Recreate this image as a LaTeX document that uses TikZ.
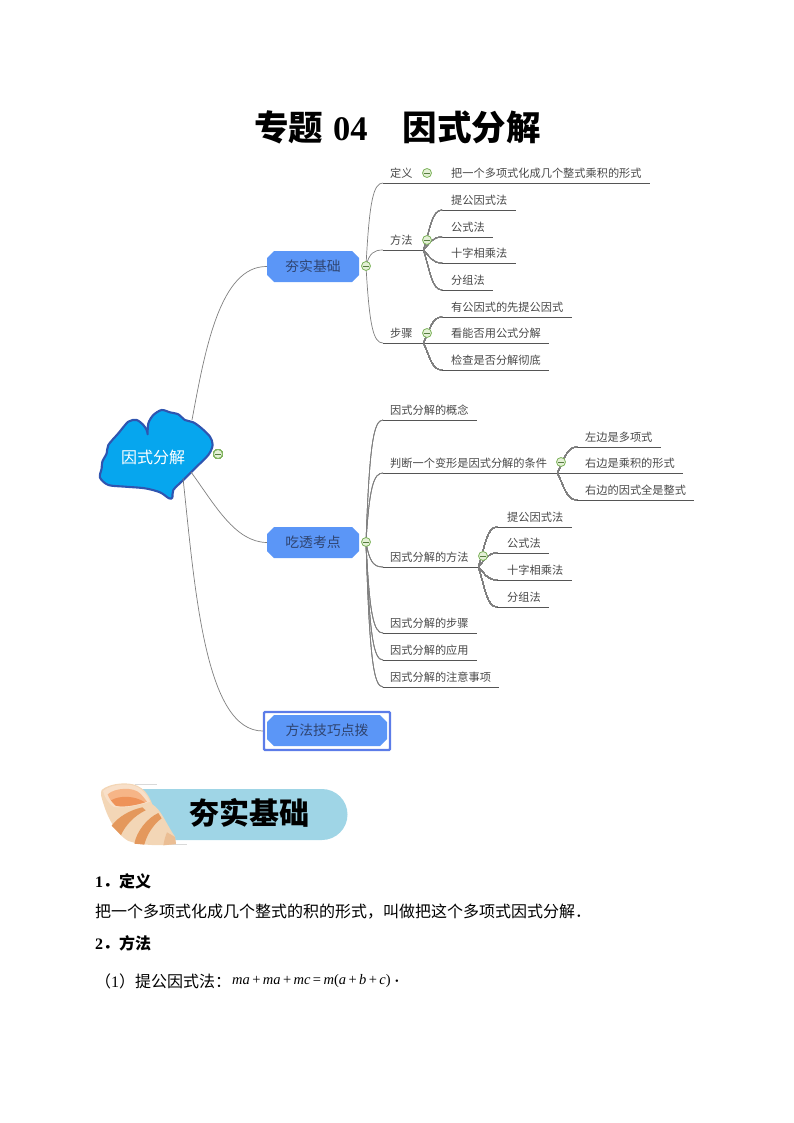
\documentclass[tikz,border=0pt]{standalone}
\usepackage{fontspec}
\setmainfont{Liberation Serif}
\newfontfamily\cjk{Noto Sans CJK SC}
\usetikzlibrary{calc,shapes.misc}
\definecolor{txt}{HTML}{484848}
\definecolor{lnc}{HTML}{7F7F7F}
\definecolor{ulc}{HTML}{555555}
\definecolor{topicfill}{HTML}{5B96F7}
\definecolor{topictxt}{HTML}{2F4470}
\definecolor{boxline}{HTML}{5C7CE8}
\definecolor{rootfill}{HTML}{06A6EE}
\definecolor{rootline}{HTML}{2F55B0}
\definecolor{foldline}{HTML}{7DB25B}
\definecolor{foldfill}{HTML}{E4F0D6}
\definecolor{bannerfill}{HTML}{9FD5E6}
\definecolor{shellbody}{HTML}{F3D6B6}
\definecolor{shelldark}{HTML}{EBBE94}
\definecolor{shelllip}{HTML}{F8DFC8}
\definecolor{shellin}{HTML}{F6B587}
\definecolor{shellcore}{HTML}{EE9258}
\definecolor{shellstripe}{HTML}{E4985C}
\tikzset{
  x=1pt,y=-1pt,
  leaf/.style 2 args={anchor=south west,inner sep=0pt,text width=#1pt,text depth=5pt,text height=10pt,
    align=left,font=\cjk\fontsize{11.2}{13}\selectfont,text=txt,execute at begin node={\hspace*{#2pt}}},
  ln/.style={draw=lnc,line width=.7pt},
  ul/.style={draw=ulc,line width=.8pt},
  topic/.style={rectangle,inner sep=0pt,minimum width=92pt,minimum height=31pt,
    font=\cjk\fontsize{13.8}{15}\selectfont,text=topictxt,
    path picture={\fill[topicfill]
      ($(path picture bounding box.north west)+(7pt,0pt)$) -- ($(path picture bounding box.north east)+(-7pt,0pt)$) --
      ($(path picture bounding box.north east)+(0pt,-7pt)$) -- ($(path picture bounding box.south east)+(0pt,7pt)$) --
      ($(path picture bounding box.south east)+(-7pt,0pt)$) -- ($(path picture bounding box.south west)+(7pt,0pt)$) --
      ($(path picture bounding box.south west)+(0pt,7pt)$) -- ($(path picture bounding box.north west)+(0pt,-7pt)$) -- cycle;}},
  fold/.style={circle,draw=foldline,fill=foldfill,line width=.8pt,inner sep=0pt,minimum size=9pt,
    path picture={\draw[foldline!70!black,line width=.9pt] (path picture bounding box.center) ++(-2.8pt,0pt) -- ++(5.6pt,0pt);}},
  body/.style={anchor=west,inner sep=0pt,font=\cjk\fontsize{16}{18}\selectfont,text=black},
  bodyb/.style={body,font=\cjk\bfseries\fontsize{16}{18}\selectfont},
}
\newcommand\mconn[2]{\draw[ln] let \p1=(#1),\p2=(#2) in (\p1) .. controls ({\x1+.2*(\x2-\x1)},{\y1+.8*(\y2-\y1)}) and ({\x1+.45*(\x2-\x1)},\y2) .. (\p2);}
\newcommand\sconn[2]{\draw[ln] let \p1=(#1),\p2=(#2) in (\p1) .. controls ({\x1+.35*(\x2-\x1)},{\y1+.5*(\y2-\y1)}) and ({\x1+.45*(\x2-\x1)},\y2) .. (\p2);}
\begin{document}
\begin{tikzpicture}
\path[use as bounding box] (0,0) rectangle (794,1123);
% title
\node[inner sep=0pt,anchor=west,font=\cjk\bfseries\fontsize{34.5}{38}\selectfont] (title) at (254,127)
  {专题\hspace{10pt}{\rmfamily 04}\hspace{35pt}因式分解};
% root
\draw[fill=rootfill,draw=rootline,line width=2.1pt,line join=round,shift={(95,405)},x=.3333pt,y=-.3333pt]
  plot[smooth,tension=.5] coordinates {(158,88)(160,55)(175,30)(200,15)(225,22)(250,28)(270,45)(295,52)(320,70)(345,95)(353,120)(340,150)(300,190)(265,225)(235,255)(232,278)(222,280)(195,262)(150,250)(90,245)(40,240)(15,218)(20,190)(22,170)(35,145)(40,120)(70,85)(100,50)(125,45)(145,60)(155,75)(158,88)} -- cycle;
\node[inner sep=0pt,font=\cjk\fontsize{16}{18}\selectfont,text=white] (root) at (153,457) {因式分解};
\coordinate (rootA) at (192,420);
\coordinate (rootB) at (191,472);
\coordinate (rootC) at (183,478);
% topics
\node[topic] (t1) at (313,266.5) {夯实基础};
\node[topic] (t2) at (313,542.5) {吃透考点};
\node[draw=boxline,line width=2.3pt,rounded corners=1pt,inner sep=0pt,minimum width=126pt,minimum height=38pt] (t3box) at (327,731) {};
\node[topic,minimum width=120pt,minimum height=31pt] (t3) at (327,730.5) {方法技巧点拨};
\draw[ln] (rootA) .. controls (205,350) and (220,266) .. (t1.west);
\draw[ln] (rootB) .. controls (215,505) and (235,542) .. (t2.west);
\draw[ln] (rootC) .. controls (195,590) and (205,731) .. (t3box.west);
% fold marks positions
\coordinate (h1) at (366,266);
\coordinate (h2) at (366,542);
% leaves branch 1
\node[leaf={40}{7}] (a1) at (383,183) {定义};
\node[leaf={227}{28}] (a1x) at (423,183) {把一个多项式化成几个整式乘积的形式};
\node[leaf={40}{7}] (a2) at (383,250) {方法};
\node[leaf={74}{9}] (a21) at (442,210) {提公因式法};
\node[leaf={51}{9}] (a22) at (442,237) {公式法};
\node[leaf={74}{9}] (a23) at (442,263) {十字相乘法};
\node[leaf={51}{9}] (a24) at (442,290) {分组法};
\node[leaf={40}{7}] (a3) at (383,343) {步骤};
\node[leaf={130}{9}] (a31) at (442,317) {有公因式的先提公因式};
\node[leaf={126}{28}] (a32) at (423,343) {看能否用公式分解};
\node[leaf={107}{9}] (a33) at (442,370) {检查是否分解彻底};
% leaves branch 2
\node[leaf={94}{7}] (b1) at (383,420) {因式分解的概念};
\node[leaf={174}{7}] (b2) at (383,473) {判断一个变形是因式分解的条件};
\node[leaf={84}{8}] (b21) at (577,447) {左边是多项式};
\node[leaf={126}{28}] (b22) at (557,473) {右边是乘积的形式};
\node[leaf={117}{8}] (b23) at (577,500) {右边的因式全是整式};
\node[leaf={95}{7}] (b3) at (383,567) {因式分解的方法};
\node[leaf={75}{10}] (b31) at (497,527) {提公因式法};
\node[leaf={52}{10}] (b32) at (497,553) {公式法};
\node[leaf={75}{10}] (b33) at (497,580) {十字相乘法};
\node[leaf={52}{10}] (b34) at (497,607) {分组法};
\node[leaf={94}{7}] (b4) at (383,633) {因式分解的步骤};
\node[leaf={94}{7}] (b5) at (383,660) {因式分解的应用};
\node[leaf={116}{7}] (b6) at (383,687) {因式分解的注意事项};
\foreach \nd in {a1,a1x,a2,a21,a22,a23,a24,a3,a31,a32,a33,b1,b2,b21,b22,b23,b3,b31,b32,b33,b34,b4,b5,b6}
  \draw[ul] (\nd.south west) -- (\nd.south east);
\foreach \nd in {a1,a2,a3} \mconn{h1}{\nd.south west}
\foreach \nd in {b1,b2,b3,b4,b5,b6} \mconn{h2}{\nd.south west}
\foreach \nd in {a21,a22,a23,a24} \sconn{a2.south east}{\nd.south west}
\foreach \nd in {a31,a33} \sconn{a3.south east}{\nd.south west}
\foreach \nd in {b21,b23} \sconn{b2.south east}{\nd.south west}
\foreach \nd in {b31,b32,b33,b34} \sconn{b3.south east}{\nd.south west}
% fold circles
\node[fold] (f0) at (218,454) {};
\node[fold] (f1) at (h1) {};
\node[fold] (f2) at (h2) {};
\node[fold] (f3) at (427,173) {};
\node[fold] (f4) at (427,240) {};
\node[fold] (f5) at (427,333) {};
\node[fold] (f6) at (561,462) {};
\node[fold] (f7) at (483,556) {};
% banner
\fill[bannerfill] (140,789) -- (322,789) arc[start angle=90,end angle=-90,radius=25.5pt] -- (140,840) -- cycle;
\draw[black!15,line width=.5pt] (135,784.5) -- (157,784.5) (165,844) -- (187,844);
% shell
\begin{scope}[shift={(95,775)},x=.3333pt,y=-.3333pt]
\fill[shellbody] (20,45) .. controls (40,25) and (110,15) .. (140,40) .. controls (155,50) and (165,70) .. (172,88)
  .. controls (200,105) and (215,150) .. (240,185) -- (243,207) .. controls (200,213) and (140,212) .. (100,198)
  .. controls (60,175) and (35,120) .. (25,85) .. controls (20,70) and (15,55) .. (20,45) -- cycle;
\fill[shelldark] (205,211) .. controls (208,195) and (212,180) .. (216,172) .. controls (225,178) and (235,182) .. (240,186) -- (243,207) -- cycle;
\fill[shelllip] (24,48) .. controls (50,25) and (115,20) .. (140,45) .. controls (152,55) and (160,68) .. (165,80)
  .. controls (130,92) and (80,102) .. (55,95) .. controls (40,85) and (28,65) .. (24,48) -- cycle;
\fill[shellin] (38,58) .. controls (60,38) and (115,35) .. (135,55) .. controls (145,65) and (152,75) .. (156,80)
  .. controls (125,90) and (85,98) .. (62,92) .. controls (50,82) and (42,70) .. (38,58) -- cycle;
\fill[shellcore] (48,76) .. controls (75,60) and (120,62) .. (150,82) .. controls (125,90) and (85,98) .. (62,92) -- cycle;
\fill[shellstripe] (50,152) .. controls (70,125) and (105,105) .. (142,97) -- (152,106)
  .. controls (118,122) and (92,150) .. (78,180) -- cycle;
\fill[shellstripe] (118,206) .. controls (125,170) and (155,130) .. (190,114) -- (200,130)
  .. controls (175,148) and (155,180) .. (148,209) -- cycle;
\end{scope}
\node[inner sep=0pt,font=\cjk\bfseries\fontsize{30}{32}\selectfont,text=black] (bannertext) at (249,813) {夯实基础};
% body
\node[bodyb] (l1) at (95,881) {{\rmfamily 1}．定义};
\node[body] (l2) at (95,912) {把一个多项式化成几个整式的积的形式，叫做把这个多项式因式分解．};
\node[bodyb] (l3) at (95,943) {{\rmfamily 2}．方法};
\node[body] (l4) at (95,981) {（{\rmfamily 1}）提公因式法：};
\node[body,font=\rmfamily\fontsize{14.5}{16}\selectfont] (l5) at (232,981) {\textit{ma}\,+\,\textit{ma}\,+\,\textit{mc}\,=\,\textit{m}(\textit{a}\,+\,\textit{b}\,+\,\textit{c})};
\node[body] (l6) at (393,981) {．};
\end{tikzpicture}
\end{document}
